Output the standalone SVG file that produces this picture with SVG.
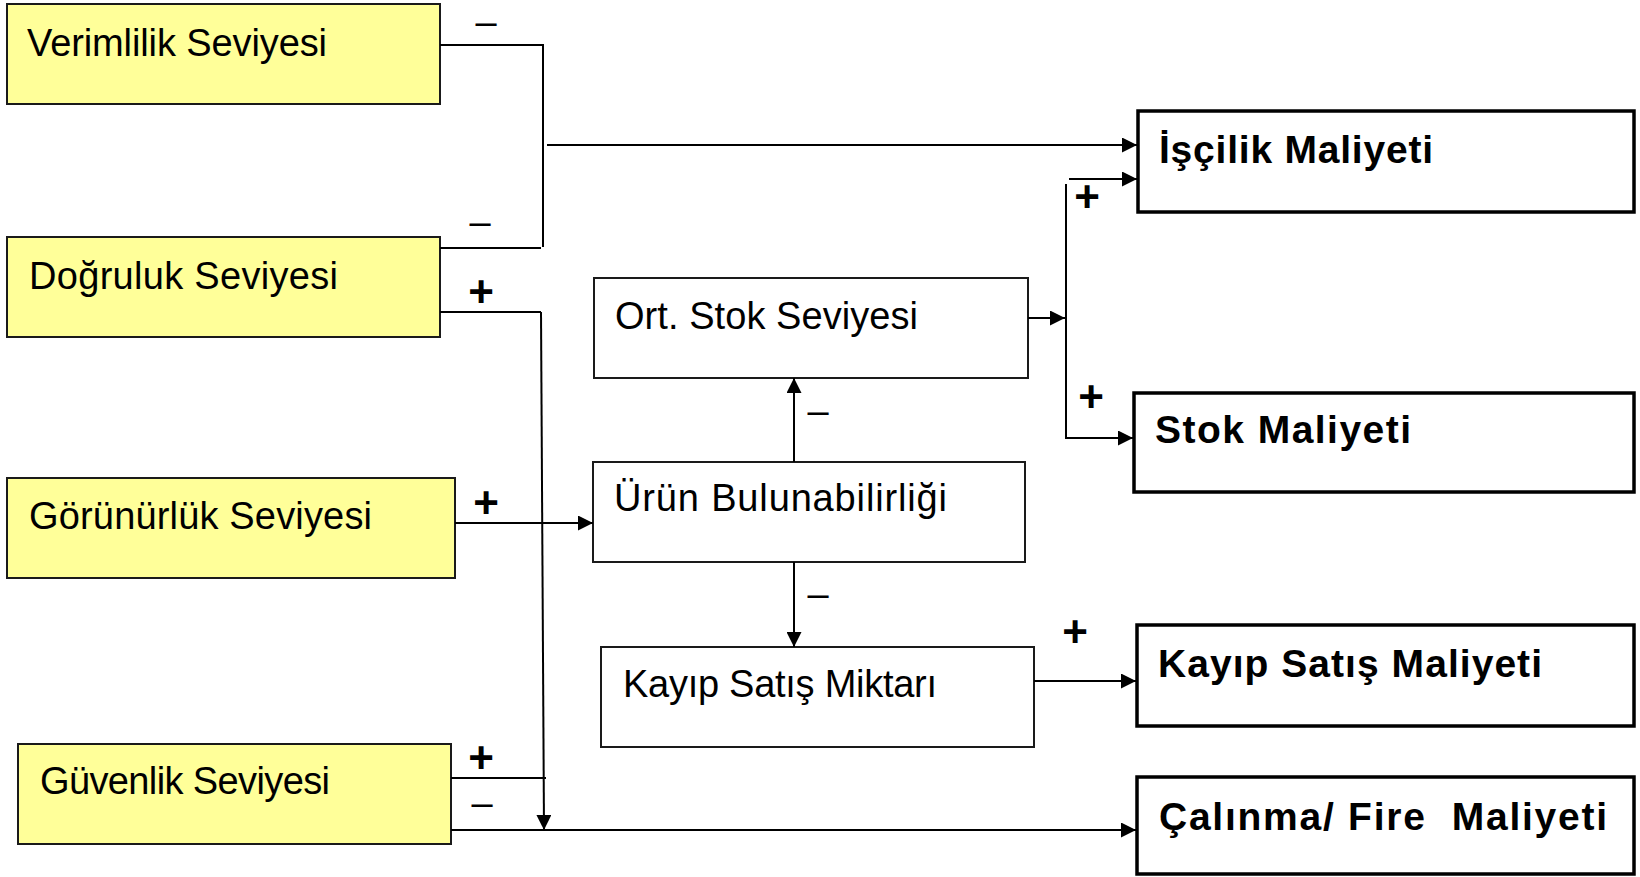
<svg xmlns="http://www.w3.org/2000/svg" width="1640" height="877" viewBox="0 0 1640 877">
  <style>
    .driver { fill: #FFFF99; stroke: #1a1a1a; stroke-width: 2; }
    .mid { fill: #FFFFFF; stroke: #1a1a1a; stroke-width: 2; }
    .cost { fill: #FFFFFF; stroke: #000000; stroke-width: 3.5; }
    .lbl { font-family: "Liberation Sans", Arial, sans-serif; font-size: 38px; fill: #000; }
    .blbl { font-family: "Liberation Sans", Arial, sans-serif; font-size: 39px; font-weight: bold; fill: #000; }
    .sign { font-family: "Liberation Sans", Arial, sans-serif; font-size: 44px; font-weight: bold; fill: #000; text-anchor: middle; }
    .neg { font-family: "Liberation Sans", Arial, sans-serif; font-size: 38px; fill: #000; text-anchor: middle; }
    .wire { fill: none; stroke: #000; stroke-width: 2; }
    .arrow { fill: none; stroke: #000; stroke-width: 2; marker-end: url(#head); }
  </style>
  <defs>
    <marker id="head" markerUnits="userSpaceOnUse" markerWidth="15" markerHeight="15" refX="15" refY="7.5" orient="auto">
      <path d="M0,0 L15,7.5 L0,15 Z" fill="#000"/>
    </marker>
  </defs>

  <rect width="1640" height="877" fill="#FFFFFF"/>

  <!-- drivers -->
  <g id="verimlilik">
    <rect class="driver" x="7" y="4" width="433" height="100"/>
    <text class="lbl" x="27" y="56" textLength="300" lengthAdjust="spacing">Verimlilik Seviyesi</text>
  </g>
  <g id="dogruluk">
    <rect class="driver" x="7" y="237" width="433" height="100"/>
    <text class="lbl" x="29" y="289" textLength="309" lengthAdjust="spacing">Doğruluk Seviyesi</text>
  </g>
  <g id="gorunurluk">
    <rect class="driver" x="7" y="478" width="448" height="100"/>
    <text class="lbl" x="29" y="529" textLength="343" lengthAdjust="spacing">Görünürlük Seviyesi</text>
  </g>
  <g id="guvenlik">
    <rect class="driver" x="18" y="744" width="433" height="100"/>
    <text class="lbl" x="40" y="794" textLength="290" lengthAdjust="spacing">Güvenlik Seviyesi</text>
  </g>

  <!-- intermediate effects -->
  <g id="ort-stok">
    <rect class="mid" x="594" y="278" width="434" height="100"/>
    <text class="lbl" x="615" y="329" textLength="303" lengthAdjust="spacing">Ort. Stok Seviyesi</text>
  </g>
  <g id="urun-bulunabilirligi">
    <rect class="mid" x="593" y="462" width="432" height="100"/>
    <text class="lbl" x="614" y="511" textLength="333" lengthAdjust="spacing">Ürün Bulunabilirliği</text>
  </g>
  <g id="kayip-satis-miktari">
    <rect class="mid" x="601" y="647" width="433" height="100"/>
    <text class="lbl" x="623" y="697" textLength="314" lengthAdjust="spacing">Kayıp Satış Miktarı</text>
  </g>

  <!-- cost outcomes -->
  <g id="iscilik-maliyeti">
    <rect class="cost" x="1138" y="111" width="496" height="101"/>
    <text class="blbl" x="1159" y="163" textLength="274" lengthAdjust="spacing">İşçilik Maliyeti</text>
  </g>
  <g id="stok-maliyeti">
    <rect class="cost" x="1134" y="393" width="500" height="99"/>
    <text class="blbl" x="1155" y="443" textLength="256" lengthAdjust="spacing">Stok Maliyeti</text>
  </g>
  <g id="kayip-satis-maliyeti">
    <rect class="cost" x="1137" y="625" width="497" height="101"/>
    <text class="blbl" x="1158" y="677" textLength="384" lengthAdjust="spacing">Kayıp Satış Maliyeti</text>
  </g>
  <g id="calinma-fire-maliyeti">
    <rect class="cost" x="1137" y="777" width="497" height="97"/>
    <text class="blbl" x="1159" y="830" xml:space="preserve" style="white-space:pre" textLength="448" lengthAdjust="spacing">Çalınma/ Fire  Maliyeti</text>
  </g>

  <!-- connectors -->
  <g id="connectors">
    <path class="wire" d="M440,45 H543 V247"/>
    <path class="wire" d="M440,248 H541"/>
    <path class="arrow" d="M547,145 H1137"/>
    <path class="wire" d="M440,312 H541"/>
    <path class="arrow" d="M541,312 L544,830"/>
    <path class="arrow" d="M455,523 H593"/>
    <path class="wire" d="M451,778 H546"/>
    <path class="arrow" d="M451,830 H1136"/>
    <path class="arrow" d="M794,462 V378"/>
    <path class="arrow" d="M794,562 V647"/>
    <path class="arrow" d="M1028,318 H1065"/>
    <path class="arrow" d="M1066,184 V438 H1133"/>
    <path class="arrow" d="M1069,179 H1137"/>
    <path class="arrow" d="M1034,681 H1136"/>

    <!-- polarity marks -->
    <text class="neg" x="486" y="35">–</text>
    <text class="neg" x="480" y="235">–</text>
    <text class="sign" x="481" y="307">+</text>
    <text class="sign" x="486" y="518">+</text>
    <text class="sign" x="481" y="773">+</text>
    <text class="neg" x="482" y="816">–</text>
    <text class="neg" x="818" y="424">–</text>
    <text class="neg" x="818" y="607">–</text>
    <text class="sign" x="1087" y="212">+</text>
    <text class="sign" x="1091" y="412">+</text>
    <text class="sign" x="1075" y="647">+</text>
  </g>
</svg>
